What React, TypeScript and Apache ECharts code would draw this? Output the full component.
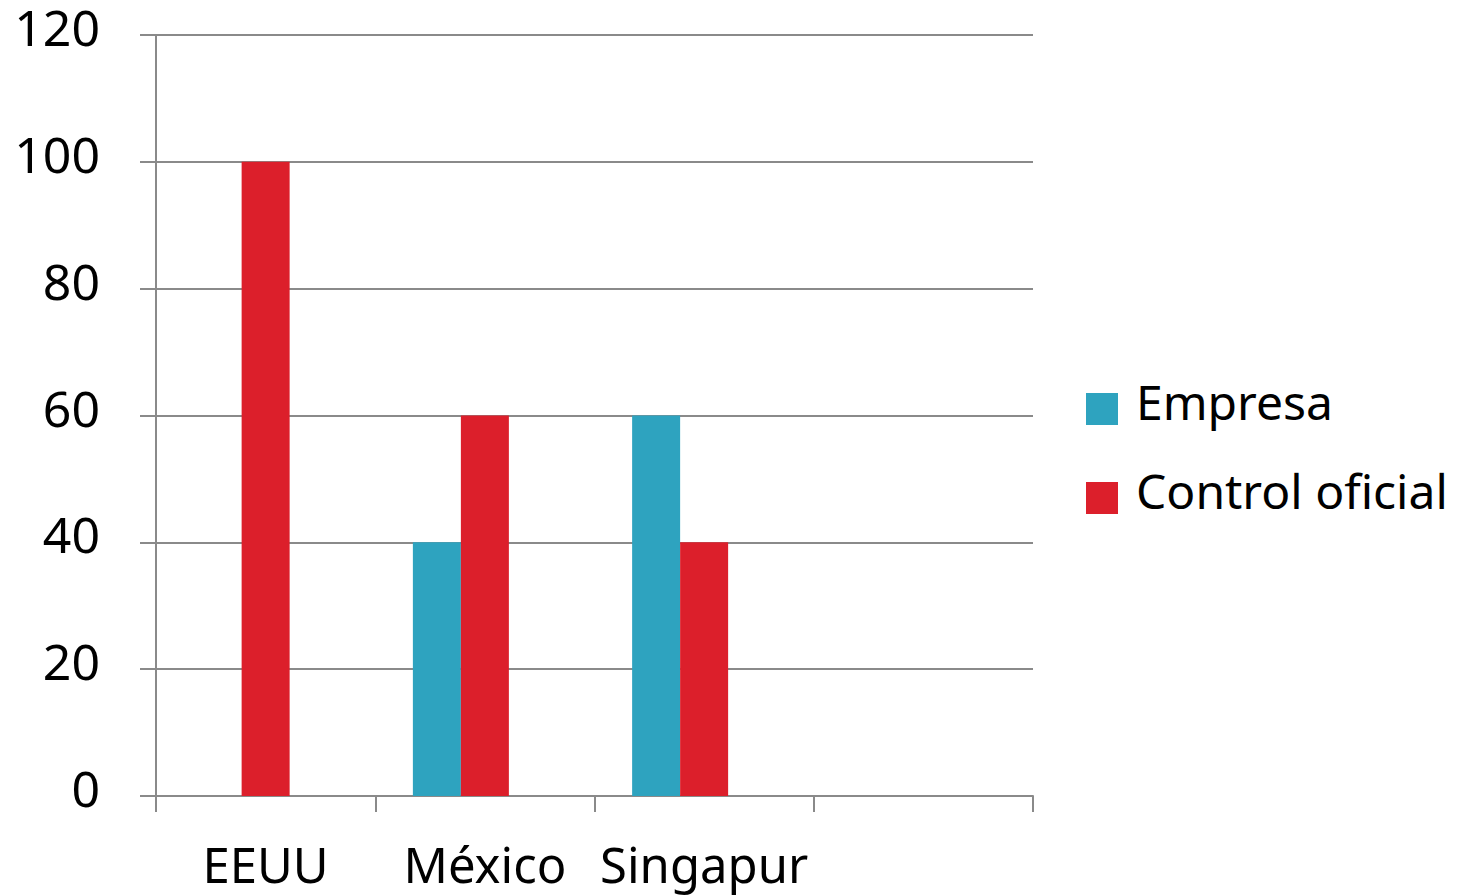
import React, { useEffect, useRef } from "react";
import * as echarts from "echarts";

const categories = ["EEUU", "México", "Singapur", ""];
const empresa: (number | null)[] = [null, 40, 60, null];
const controlOficial: (number | null)[] = [100, 60, 40, null];
const tercera: (number | null)[] = [null, null, null, null];
const yTicks = { min: 0, max: 120, interval: 20 };

const TEAL = "#2EA3BF";
const RED = "#DC1F2B";
const AXIS = "#8a8a8a";
const FONT = "Noto Sans";

const toData = (arr: (number | null)[]) => arr.map((v) => (v == null ? "-" : v));

export default function App() {
  const ref = useRef<HTMLDivElement>(null);
  useEffect(() => {
    if (!ref.current) return;
    const chart = echarts.init(ref.current, undefined, { renderer: "svg" });
    chart.setOption({
      animation: false,
      textStyle: { fontFamily: FONT },
      grid: { left: 156, right: 436, top: 35, bottom: 99, containLabel: false },
      legend: {
        data: ["Empresa", "Control oficial"],
        orient: "vertical",
        left: 1081,
        top: 372,
        itemWidth: 32,
        itemHeight: 32,
        itemGap: 41,
        icon: "rect",
        selectedMode: false,
        formatter: "{t|{name}}",
        textStyle: {
          fontSize: 48,
          color: "#000",
          fontFamily: FONT,
          padding: [0, 0, 0, 13],
          rich: {
            t: { fontSize: 48, color: "#000", fontFamily: FONT, padding: [0, 0, 16, 0] },
          },
        },
      },
      xAxis: {
        type: "category",
        data: categories,
        axisLine: { show: true, lineStyle: { color: AXIS, width: 2 } },
        axisTick: { show: true, length: 16, interval: 0, lineStyle: { color: AXIS, width: 2 } },
        axisLabel: { fontSize: 49, color: "#000", margin: 43, interval: 0, fontFamily: FONT },
        splitLine: { show: false },
      },
      yAxis: {
        type: "value",
        min: yTicks.min,
        max: yTicks.max,
        interval: yTicks.interval,
        axisLine: { show: true, lineStyle: { color: AXIS, width: 2 } },
        axisTick: { show: true, length: 16, inside: false, lineStyle: { color: AXIS, width: 2 } },
        axisLabel: {
          fontSize: 50,
          color: "#000",
          margin: 56,
          fontFamily: FONT,
          formatter: "{v|{value}}",
          rich: {
            v: { fontSize: 50, lineHeight: 40, color: "#000", fontFamily: FONT, padding: [0, 0, 16, 0] },
          },
        },
        splitLine: { show: true, lineStyle: { color: AXIS, width: 2 } },
      },
      series: [
        {
          name: "Empresa",
          type: "bar",
          data: toData(empresa),
          barWidth: 48,
          barGap: "0%",
          itemStyle: { color: TEAL },
        },
        {
          name: "Control oficial",
          type: "bar",
          data: toData(controlOficial),
          barWidth: 48,
          barGap: "0%",
          itemStyle: { color: RED },
        },
        {
          name: "",
          type: "bar",
          data: toData(tercera),
          barWidth: 48,
          barGap: "0%",
          itemStyle: { color: "#7fa046" },
        },
      ],
    });
    return () => chart.dispose();
  }, []);
  return (
    <div
      ref={ref}
      style={{ position: "fixed", left: 0, top: 0, width: 1469, height: 895, background: "#fff" }}
    />
  );
}
